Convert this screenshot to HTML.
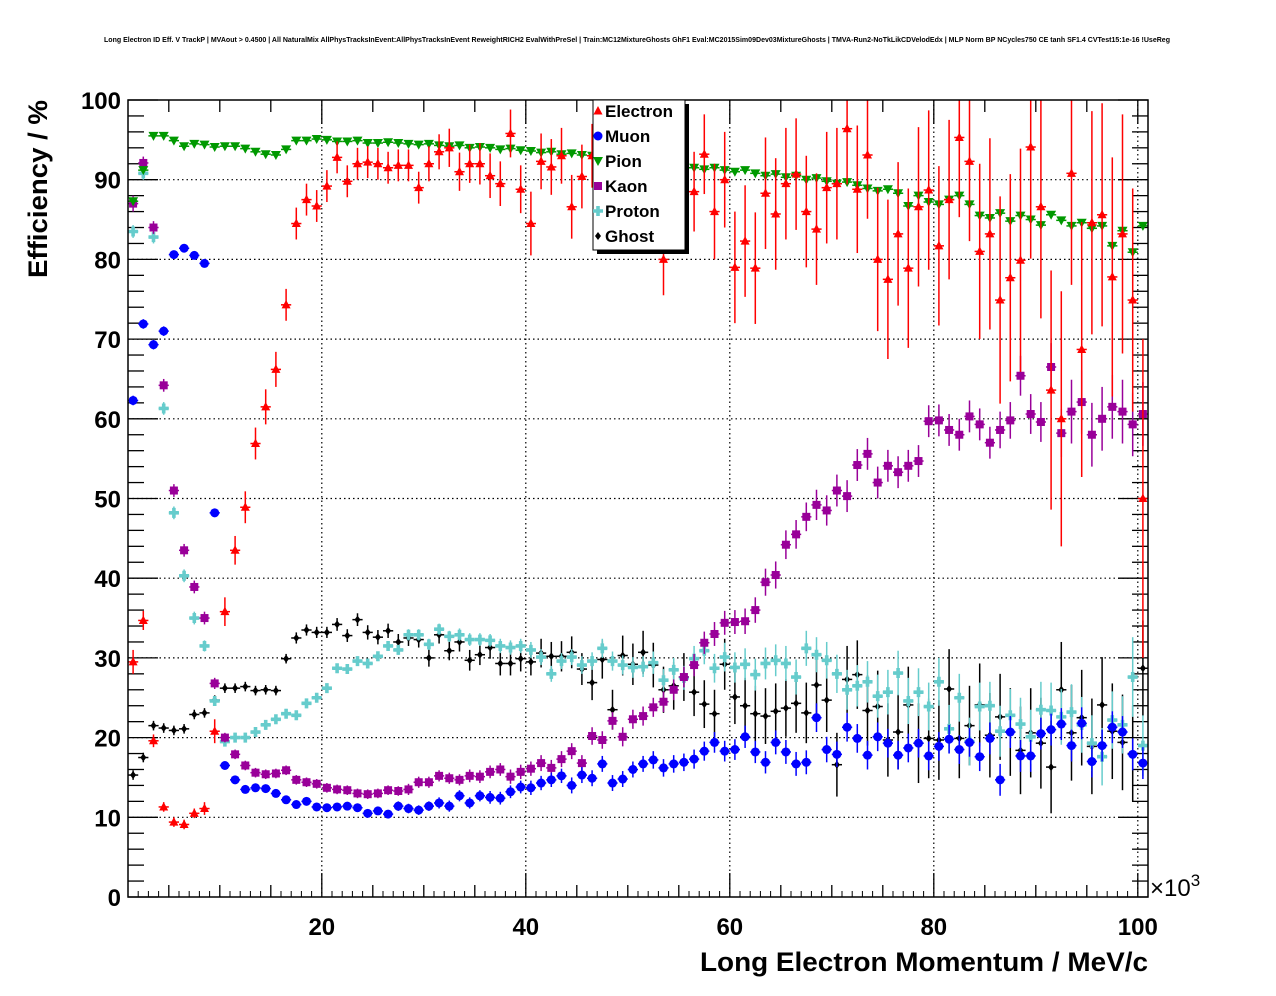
<!DOCTYPE html>
<html><head><meta charset="utf-8"><style>
html,body{margin:0;padding:0;background:#fff}
svg{display:block;font-family:"Liberation Sans",sans-serif}
</style></head><body>
<svg id="c" width="1276" height="996" viewBox="0 0 1276 996">
<rect x="0" y="0" width="1276" height="996" fill="#fff"/>
<text x="637" y="42" font-size="7" font-weight="bold" text-anchor="middle" textLength="1066" lengthAdjust="spacingAndGlyphs">Long Electron ID Eff. V TrackP | MVAout &gt; 0.4500 | All NaturalMix AllPhysTracksInEvent:AllPhysTracksInEvent ReweightRICH2 EvalWithPreSel | Train:MC12MixtureGhosts GhF1 Eval:MC2015Sim09Dev03MixtureGhosts | TMVA-Run2-NoTkLikCDVelodEdx | MLP Norm BP NCycles750 CE tanh SF1.4 CVTest15:1e-16 !UseReg</text>
<g id="grid"></g>
<g id="axes"></g>
<g id="marks"></g>
<rect x="128" y="100" width="1020" height="797" fill="none" stroke="#000" stroke-width="1.5"/>
<text transform="translate(47,189) rotate(-90)" font-size="27" font-weight="bold" text-anchor="middle" textLength="178" lengthAdjust="spacingAndGlyphs">Efficiency / %</text>
<text x="700" y="971" font-size="27" font-weight="bold" textLength="448" lengthAdjust="spacingAndGlyphs">Long Electron Momentum / MeV/c</text>
<text x="1150" y="896" font-size="24">×10<tspan dy="-10" font-size="17">3</tspan></text>
<g>
<rect x="597" y="104" width="92" height="150" fill="#000"/>
<rect x="593" y="100" width="92" height="150" fill="#fff" stroke="#000" stroke-width="1"/>
<g id="legend"></g>
</g>
</svg>
<script>
const categoriesK = Array.from({length:100},(_, i)=>1.5+i); // bin centres in 10^3 MeV/c
const seriesNames = ["Electron","Muon","Pion","Kaon","Proton","Ghost"];
const electron = [29.5,34.7,19.6,11.3,9.4,9.1,10.5,11.1,20.8,35.8,43.5,48.9,56.9,61.5,66.2,74.3,84.5,87.5,86.7,89.2,92.8,89.8,92,92.2,92,91.5,91.8,91.8,89,92,93.5,94,91,92,92,90.5,89.5,95.8,88.8,84.5,92.3,91.6,93,86.6,90.4,93,92.5,92,92,91.5,91,90,80,90.5,91.2,88.5,93.2,86,90,79,82.3,78.9,88.3,85.7,89.5,90.7,86,83.8,89,89.5,96.4,88.8,93.1,80,77.5,83.2,78.9,86.6,88.7,81.7,87.5,95.3,92.3,81,83.2,74.9,77.7,79.9,94.1,86.6,63.6,60,90.8,68.7,84.6,85.6,77.8,83.2,74.9,50];
const electronErr = [1.5,1.2,0.8,0.6,0.6,0.6,0.6,0.8,1.5,1.8,1.8,2,2,2.2,2.2,2,2,2,2,2,2,2,2,2,2,2,2,2,2,2.2,2.2,2.4,2.4,2.4,2.6,2.8,2.8,3,3,4,3.5,3.5,3.5,4,4,4,4,4,4,4,4.5,4.5,4.5,4.5,5,5,5,6,6,7,7,7,7,7,7,7,7,7,7,7,7,8,8,9,10,9,10,10,10,10,10,10,10,11,12,13,13,14,14,14,15,16,14,16,14,14,15,15,14,20];
const muon = [62.3,71.9,69.3,71,80.6,81.4,80.5,79.5,48.2,16.5,14.7,13.5,13.7,13.6,13.0,12.2,11.6,12.0,11.3,11.2,11.3,11.4,11.2,10.5,10.8,10.4,11.4,11.1,10.9,11.4,11.8,11.4,12.7,11.8,12.7,12.5,12.4,13.2,13.8,13.7,14.3,14.7,15.2,14.0,15.3,14.9,16.7,14.3,14.8,16.0,16.7,17.2,16.2,16.7,16.9,17.3,18.3,19.4,18.3,18.5,20.1,18.2,16.9,19.4,18.2,16.7,16.9,22.5,18.5,17.9,21.3,19.9,17.8,20.1,19.3,17.8,18.7,19.3,17.7,18.9,19.8,18.5,19.4,17.6,19.9,14.7,20.7,17.7,17.7,20.5,21.0,21.7,19.0,21.8,17.0,19.0,21.3,20.7,17.9,16.8];
const muonErr = [0.6,0.6,0.6,0.6,0.5,0.5,0.5,0.5,0.5,0.5,0.5,0.5,0.5,0.5,0.5,0.5,0.5,0.5,0.5,0.5,0.5,0.5,0.5,0.5,0.5,0.5,0.6,0.6,0.6,0.6,0.7,0.7,0.7,0.7,0.7,0.8,0.8,0.8,0.8,0.9,0.9,0.9,0.9,1,1,1,1,1,1,1,1,1.1,1.1,1.1,1.1,1.2,1.2,1.3,1.3,1.3,1.4,1.4,1.4,1.5,1.5,1.5,1.5,1.8,1.6,1.6,1.8,1.8,1.8,1.8,1.8,1.8,1.8,1.8,1.8,1.8,1.8,1.8,1.8,1.8,2,2,2,2,2,2,2,2,2,2,2,2,2,2,2,2];
const pion = [87.3,91.2,95.5,95.5,94.9,94.2,94.5,94.4,94.1,94.2,94.2,93.9,93.5,93.2,93.1,93.8,94.9,94.9,95.1,95.0,94.8,94.8,94.9,94.6,94.6,94.7,94.6,94.5,94.4,94.5,94.3,94.2,94.3,94.0,94.1,94.0,93.8,93.9,93.7,93.6,93.4,93.5,93.2,93.3,93.1,93.0,92.9,92.7,92.6,92.4,92.3,92.1,92.0,91.8,91.7,91.5,91.3,91.5,91.2,91.0,91.2,90.8,90.5,90.7,90.3,90.5,90.0,90.2,89.8,89.5,89.7,89.3,88.9,88.6,88.8,88.3,86.7,88.0,87.2,86.9,87.5,88.0,86.9,85.5,85.2,85.8,84.8,85.5,85.0,84.3,85.6,84.9,84.2,84.6,83.9,84.2,81.7,83.6,80.9,84.2];
const kaon = [87.0,92.1,84,64.2,51,43.5,38.9,35,26.8,20,17.9,16.5,15.6,15.4,15.5,15.9,14.7,14.4,14.2,13.7,13.5,13.4,13.0,12.9,13.0,13.4,13.3,13.5,14.4,14.4,15.2,14.9,14.7,15.2,15.1,15.7,16.0,15.1,15.7,16.1,16.8,16.2,17.3,18.3,16.8,20.2,19.7,22.1,20.1,22.3,22.7,23.8,24.5,26.0,27.6,29.1,31.9,33.0,34.4,34.5,34.6,36.0,39.5,40.4,44.2,45.5,47.7,49.2,48.5,51.0,50.3,54.2,55.6,52.0,54.1,53.3,54.1,54.7,59.7,59.8,58.6,58.0,60.3,59.3,57.0,58.6,59.8,65.4,60.6,59.6,66.5,58.2,60.9,62.1,58.0,60.0,61.5,60.9,59.3,60.6];
const kaonErr = [1,0.8,0.8,0.8,0.8,0.8,0.8,0.8,0.7,0.6,0.6,0.6,0.6,0.6,0.6,0.6,0.6,0.6,0.6,0.6,0.6,0.6,0.6,0.6,0.6,0.6,0.6,0.7,0.7,0.7,0.7,0.7,0.7,0.8,0.8,0.8,0.8,0.9,0.9,0.9,1,1,1,1,1,1.1,1.1,1.1,1.2,1.2,1.2,1.2,1.3,1.3,1.3,1.4,1.4,1.5,1.5,1.5,1.6,1.6,1.7,1.7,1.8,1.8,1.8,1.9,1.9,2,2,2,2,2,2,2,2,2,2,2,2,2,2,2,2,2.3,2.3,2.5,2.5,2.5,3,3,4,4,4,4,4,4,4,4];
const proton = [83.5,90.8,82.8,61.3,48.2,40.3,35,31.5,24.6,19.5,20,20,20.7,21.6,22.3,23,22.8,24.3,25,26.2,28.7,28.6,29.6,29.3,30.2,31.5,31,32.9,32.9,31.7,33.6,32.7,32.9,32.3,32.3,32.2,31.5,31.3,31.5,31.0,30.1,28.0,29.6,30.1,29.1,29.6,31.2,29.6,29.1,28.8,28.9,29.4,27.2,28.5,27.5,29.9,30.9,28.7,30.1,28.8,29.2,27.9,29.3,29.7,29.3,27.6,31.2,30.4,29.7,28.0,26.0,26.5,27.0,25.2,25.7,28.1,24.6,25.7,23.9,27.0,21.1,25.0,19.5,23.9,24.0,20.8,22.8,21.7,20.1,23.5,23.4,22.6,23.2,21.6,19.3,17.6,22.2,21.6,27.6,19.0];
const protonErr = [0.8,0.8,0.8,0.8,0.8,0.8,0.8,0.7,0.6,0.6,0.6,0.6,0.6,0.6,0.6,0.6,0.6,0.6,0.6,0.6,0.6,0.6,0.6,0.6,0.6,0.6,0.6,0.7,0.7,0.7,0.7,0.7,0.8,0.8,0.8,0.8,0.9,0.9,0.9,1,1,1,1,1,1.1,1.1,1.2,1.2,1.2,1.3,1.3,1.4,1.4,1.5,1.5,1.6,1.7,1.8,1.8,1.9,2,2,2,2,2.2,2.2,2.2,2.2,2.3,2.4,2.5,2.6,2.6,2.7,2.8,2.8,2.9,3,3,3,3,3,3,3,3,3.2,3.3,3.3,3.4,3.5,3.5,3.5,3.5,3.5,3.5,3.6,3.6,3.6,5,3.8];
const ghost = [15.3,17.5,21.5,21.2,20.9,21.1,22.9,23.1,24.7,26.2,26.2,26.4,25.9,26.0,25.9,29.9,32.5,33.5,33.2,33.2,34.2,32.8,34.8,33.2,32.6,33.4,32.0,32.5,32.3,30.0,32.9,30.9,32.0,29.7,30.4,31.3,29.3,29.3,29.9,29.5,30.6,30.2,30.2,30.7,28.6,26.9,29.8,23.5,30.3,29.2,30.7,29.1,26.0,26.5,27.6,25.7,24.2,23.0,29.2,25.1,24.0,23.0,22.7,23.3,23.7,24.3,23.1,26.6,24.7,16.6,27.3,27.9,23.4,23.9,19.7,20.7,24.1,19.3,19.9,19.7,26.1,19.9,21.5,24.1,20.3,22.6,20.7,18.4,20.6,19.3,16.3,26.0,20.6,22.5,18.9,24.1,20.8,19.4,18.0,28.7];
const ghostErr = [0.6,0.6,0.6,0.6,0.6,0.6,0.6,0.6,0.6,0.6,0.6,0.6,0.6,0.6,0.6,0.6,0.7,0.7,0.7,0.7,0.8,0.8,0.8,0.9,0.9,0.9,1,1,1,1.1,1.1,1.2,1.2,1.3,1.3,1.4,1.5,1.5,1.6,1.7,1.8,1.8,1.9,2,2,2.2,2.4,2.5,2.5,2.6,2.7,2.8,2.9,3,3,3,3,3,3.2,3.4,3.5,3.5,3.5,3.5,3.6,3.7,3.8,3.9,4,4,4.2,4.3,4.4,4.5,4.6,4.7,4.8,5,5,5,5,5,5,5.2,5.3,5.4,5.5,5.5,5.6,5.7,5.8,6,6,6,6,6,6,6,6,6];
const xTickLabels = ["20","40","60","80","100"];
const xTickValues = [20,40,60,80,100];
const yTickLabels = ["0","10","20","30","40","50","60","70","80","90","100"];
const yTickValues = [0,10,20,30,40,50,60,70,80,90,100];

const NS="http://www.w3.org/2000/svg";
const X0=128,X1=1148,Y0=897,Y1=100,XMIN=1,XMAX=101,YMIN=0,YMAX=100;
function sx(v){return X0+(v-XMIN)/(XMAX-XMIN)*(X1-X0);}
function sy(v){return Y0-(v-YMIN)/(YMAX-YMIN)*(Y0-Y1);}
function mk(tag,attrs,parent){const e=document.createElementNS(NS,tag);for(const k in attrs)e.setAttribute(k,attrs[k]);parent.appendChild(e);return e;}
const grid=document.getElementById('grid'),axes=document.getElementById('axes'),marks=document.getElementById('marks'),legend=document.getElementById('legend');

xTickValues.forEach(v=>{if(v>=XMAX)return;const l=mk('line',{x1:sx(v),x2:sx(v),y1:Y1,y2:Y0,stroke:'#000','stroke-width':1.2,'stroke-dasharray':'1.5,3'},grid);

});
yTickValues.forEach(v=>{if(v<=YMIN||v>=YMAX)return;const l=mk('line',{x1:X0,x2:X1,y1:sy(v),y2:sy(v),stroke:'#000','stroke-width':1.2,'stroke-dasharray':'1.5,3'},grid);

});

for(let v=0;v<=100;v+=2){const maj=v%10===0;const len=maj?30:16;
const l=mk('line',{x1:X0,x2:X0+len,y1:sy(v),y2:sy(v),stroke:'#000','stroke-width':1.3},axes);


const r=mk('line',{x1:X1-len,x2:X1,y1:sy(v),y2:sy(v),stroke:'#000','stroke-width':1.3},axes);

}
yTickValues.forEach((v,i)=>{const t=mk('text',{x:121,y:sy(v)+9,'font-size':24,'font-weight':'bold','text-anchor':'end'},axes);t.textContent=yTickLabels[i];

});
for(let v=5;v<=100;v+=5){const maj=v%20===0;const len=maj?24:12;
const l=mk('line',{x1:sx(v),x2:sx(v),y1:Y0,y2:Y0-len,stroke:'#000','stroke-width':1.3},axes);


const t2=mk('line',{x1:sx(v),x2:sx(v),y1:Y1,y2:Y1+len,stroke:'#000','stroke-width':1.3},axes);

}
for(let v=2;v<=100;v+=1){if(v%5===0)continue;
const l=mk('line',{x1:sx(v),x2:sx(v),y1:Y0,y2:Y0-6,stroke:'#000','stroke-width':1},axes);

}
xTickValues.forEach((v,i)=>{const t=mk('text',{x:sx(v),y:935,'font-size':24,'font-weight':'bold','text-anchor':'middle'},axes);t.textContent=xTickLabels[i];

});

function marker(type,color,cx,cy,parent){
  let e;
  if(type==='tu'){e=mk('polygon',{points:`${cx},${cy-5} ${cx-4.5},${cy+3.5} ${cx+4.5},${cy+3.5}`,fill:color},parent);}
  else if(type==='td'){e=mk('polygon',{points:`${cx},${cy+5} ${cx-5},${cy-4} ${cx+5},${cy-4}`,fill:color},parent);}
  else if(type==='c'){e=mk('circle',{cx:cx,cy:cy,r:4.5,fill:color},parent);}
  else if(type==='s'){e=mk('rect',{x:cx-4,y:cy-4,width:8,height:8,fill:color},parent);}
  else if(type==='x'){e=mk('path',{d:`M${cx-5} ${cy-1.8}h3.2v-3.2h3.6v3.2h3.2v3.6h-3.2v3.2h-3.6v-3.2h-3.2z`,fill:color},parent);}
  else {e=mk('polygon',{points:`${cx},${cy-4} ${cx+3},${cy} ${cx},${cy+4} ${cx-3},${cy}`,fill:color},parent);}
  return e;
}
const series=[
 {name:'electron',vals:electron,err:electronErr,color:'#ff0000',m:'tu'},
 {name:'muon',vals:muon,err:muonErr,color:'#0000ff',m:'c'},
 {name:'pion',vals:pion,err:null,color:'#009900',m:'td'},
 {name:'kaon',vals:kaon,err:kaonErr,color:'#990099',m:'s'},
 {name:'proton',vals:proton,err:protonErr,color:'#66cccc',m:'x'},
 {name:'ghost',vals:ghost,err:ghostErr,color:'#000000',m:'d'}
];
series.slice().reverse().forEach(s=>{
  const g=mk('g',{},marks);
  
  
  s.vals.forEach((v,i)=>{
    const cx=sx(categoriesK[i]),cy=sy(v);
    const pg=mk('g',{},g);
    
    
    mk('line',{x1:cx-5.1,x2:cx+5.1,y1:cy,y2:cy,stroke:s.color,'stroke-width':1.5},pg);
    const e=s.err?s.err[i]:0.4;
    mk('line',{x1:cx,x2:cx,y1:Math.max(Y1,sy(v+e)),y2:Math.min(Y0,sy(v-e)),stroke:s.color,'stroke-width':1.5},pg);
    marker(s.m,s.color,cx,cy,pg);
  });
});
seriesNames.forEach((n,i)=>{
  const s=series[i];const y=111+i*25;
  const g=mk('g',{},legend);
  
  
  marker(s.m,s.color,598,y,g);
  const t=mk('text',{x:605,y:y+6,'font-size':17,'font-weight':'bold'},g);t.textContent=n;
});
</script>
</body></html>
